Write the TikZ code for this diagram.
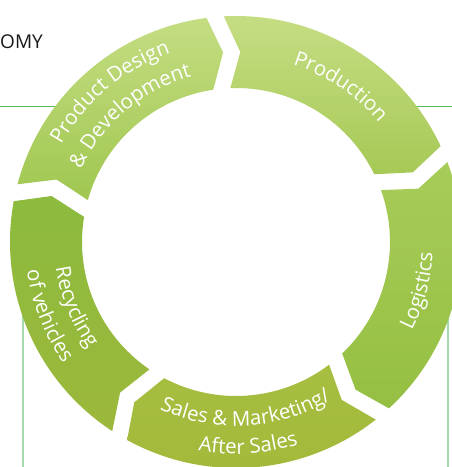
\documentclass[tikz,border=0pt]{standalone}
\usepackage{fontspec}
\setsansfont{Open Sans}
\usetikzlibrary{decorations.text}
\definecolor{frameA}{HTML}{5CB85C}
\definecolor{frameB}{HTML}{A5D9AE}
\definecolor{pdTop}{HTML}{C4DD82}
\definecolor{pdBot}{HTML}{A0C750}
\definecolor{prTop}{HTML}{C6DE84}
\definecolor{prBot}{HTML}{A6C956}
\definecolor{lgTop}{HTML}{A8CC58}
\definecolor{lgBot}{HTML}{94BF42}
\definecolor{slTop}{HTML}{A6BF40}
\definecolor{slBot}{HTML}{A2B83A}
\definecolor{rcTop}{HTML}{8CBB3E}
\definecolor{rcBot}{HTML}{9CB83A}
\newcommand\lblfont{\sffamily\fontsize{20.5pt}{24pt}\selectfont\color{white}}
% ring segment: start gap angle, end gap angle, top colour, bottom colour
\newcommand\ringseg[4]{%
  \pgfmathsetmacro\RsOa{#1-2.2}\pgfmathsetmacro\RsOb{#2+2.2}%
  \pgfmathsetmacro\RsIa{#1-3.2}\pgfmathsetmacro\RsIb{#2+3.2}%
  \pgfmathsetmacro\RsTp{#2-1.4}\pgfmathsetmacro\RsNt{#1-6.6}%
  \shade[top color=#3,bottom color=#4]
    (\RsOa:226pt) arc[start angle=\RsOa,end angle=\RsOb,radius=226pt]
    -- (\RsTp:190pt) -- (\RsIb:154pt)
    arc[start angle=\RsIb,end angle=\RsIa,radius=154pt]
    -- (\RsNt:190pt) -- cycle;}
% text along an arc: radius, start angle, end angle, text
\newcommand\arctext[4]{%
  \path[decorate,decoration={text along path,text align=center,
      text={|\lblfont|#4}}]
    (#2:#1pt) arc[start angle=#2,end angle=#3,radius=#1pt];}
\begin{document}
\begin{tikzpicture}[x=1pt,y=1pt]
\useasboundingbox (0,0) rectangle (452,467);
\fill[white] (0,0) rectangle (452,467);
% frame lines behind the ring
\draw[frameA,line width=1pt] (0,360) -- (90,360);
\draw[frameA,line width=1pt] (380,360) -- (452,360);
\draw[frameB,line width=1.2pt] (23,170) -- (23,0);
\draw[frameB,line width=1.2pt] (448,170) -- (448,0);
% heading fragment
\node[anchor=west,inner sep=0pt,font=\sffamily\fontsize{19pt}{22pt}\selectfont,text=black!90] (head) at (0,425.5) {OMY};
\begin{scope}[shift={(236,225)}]
  \ringseg{167.4}{95.3}{pdTop}{pdBot}
  \ringseg{95.3}{22.9}{prTop}{prBot}
  \ringseg{22.9}{-49.6}{lgTop}{lgBot}
  \ringseg{-49.6}{-121.0}{slTop}{slBot}
  \ringseg{-121.0}{-192.6}{rcTop}{rcBot}
  % labels
  \arctext{200}{166}{94}{Product Design}
  \arctext{171}{166}{94}{{\&} Development}
  \arctext{186}{91}{21}{Production}
  \arctext{197}{-50}{20}{Logistics}
  \arctext{184}{-122}{-51.2}{Sales {\&} Marketing/}
  \arctext{212}{-122}{-51.2}{After Sales}
  \arctext{182}{167}{237}{Recycling}
  \arctext{211}{166.5}{236.5}{of vehicles}
\end{scope}
\end{tikzpicture}
\end{document}
